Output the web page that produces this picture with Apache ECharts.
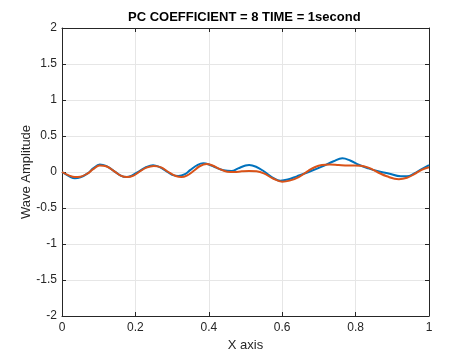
<!DOCTYPE html>
<html>
<head>
<meta charset="utf-8">
<script src="https://cdn.jsdelivr.net/npm/echarts@6/dist/echarts.min.js"></script>
<style>
  html, body { margin: 0; padding: 0; background: #fff; }
  #chart { width: 474px; height: 355px; }
</style>
</head>
<body>
<div id="chart"></div>
<script>
  // values
  const blueX = [0, 0.02, 0.035, 0.05, 0.07, 0.085, 0.103, 0.12, 0.14, 0.16, 0.175, 0.19, 0.21, 0.23, 0.248,
    0.265, 0.285, 0.3, 0.317, 0.335, 0.35, 0.37, 0.385, 0.4, 0.42, 0.44, 0.462, 0.48, 0.5, 0.51, 0.53, 0.55,
    0.575, 0.595, 0.615, 0.64, 0.672, 0.708, 0.74, 0.764, 0.785, 0.81, 0.835, 0.859, 0.89, 0.923, 0.94, 0.96, 0.98, 1];
  const blueY = [0, -0.06, -0.088, -0.075, -0.02, 0.05, 0.105, 0.085, 0.02, -0.05, -0.07, -0.05, 0.01, 0.07, 0.095,
    0.07, 0.01, -0.04, -0.055, -0.03, 0.03, 0.1, 0.12, 0.105, 0.06, 0.025, 0.014, 0.05, 0.09, 0.097, 0.07, 0.01,
    -0.08, -0.12, -0.105, -0.06, 0, 0.074, 0.15, 0.19, 0.16, 0.097, 0.05, 0.014, -0.02, -0.06, -0.06, -0.02, 0.04, 0.097];

  const orangeX = [0, 0.02, 0.035, 0.05, 0.07, 0.085, 0.103, 0.12, 0.14, 0.16, 0.178, 0.195, 0.21, 0.23, 0.25,
    0.27, 0.29, 0.31, 0.325, 0.34, 0.36, 0.375, 0.394, 0.41, 0.43, 0.45, 0.47, 0.49, 0.51, 0.53, 0.55,
    0.575, 0.6, 0.62, 0.645, 0.672, 0.69, 0.708, 0.73, 0.754, 0.78, 0.813, 0.835, 0.859, 0.885, 0.918, 0.94, 0.96, 0.98, 1];
  const orangeY = [0, -0.05, -0.07, -0.065, -0.02, 0.04, 0.09, 0.08, 0.02, -0.05, -0.07, -0.05, 0, 0.06, 0.085,
    0.065, 0, -0.055, -0.07, -0.05, 0.02, 0.08, 0.11, 0.09, 0.04, 0.005, 0, 0.01, 0.015, 0.01, -0.02,
    -0.09, -0.135, -0.12, -0.07, 0.02, 0.07, 0.097, 0.105, 0.097, 0.09, 0.088, 0.06, 0, -0.06, -0.1, -0.08, -0.03, 0.03, 0.065];

  const titleText = "PC COEFFICIENT = 8 TIME = 1second";
  const xName = "X axis";
  const yName = "Wave Amplitude";

  function pairs(xs, ys) {
    return xs.map(function (x, i) { return [x, ys[i]]; });
  }

  const axisColor = "#262626";
  const labelColor = "#262626";
  const font = "Liberation Sans, Arial, Helvetica, sans-serif";

  const chart = echarts.init(document.getElementById("chart"), null, { renderer: "canvas" });

  const option = {
    animation: false,
    backgroundColor: "#fff",
    title: {
      text: titleText,
      left: 128,
      top: 11,
      padding: 0,
      textStyle: { fontFamily: font, fontSize: 13, fontWeight: "bold", color: "#000" }
    },
    // fixed plot box, no auto shrinking for labels
    grid: { left: 62, right: 45, top: 28, bottom: 39, containLabel: false, outerBoundsMode: "none" },
    xAxis: [
      {
        type: "value", min: 0, max: 1, interval: 0.2,
        name: xName, nameLocation: "middle", nameGap: 23, nameMoveOverlap: false,
        nameTextStyle: { fontFamily: font, fontSize: 13, color: labelColor },
        axisLine: { show: true, onZero: false, lineStyle: { color: axisColor, width: 1 } },
        axisTick: { show: true, inside: true, length: 4, lineStyle: { color: axisColor } },
        axisLabel: { fontFamily: font, fontSize: 12, color: labelColor, margin: 6 },
        splitLine: { show: true, lineStyle: { color: "#e6e6e6", width: 1 } }
      },
      {
        type: "value", min: 0, max: 1, interval: 0.2, position: "top",
        axisLine: { show: true, onZero: false, lineStyle: { color: axisColor, width: 1 } },
        axisTick: { show: true, inside: true, length: 4, lineStyle: { color: axisColor } },
        axisLabel: { show: false },
        splitLine: { show: false }
      }
    ],
    yAxis: [
      {
        type: "value", min: -2, max: 2, interval: 0.5,
        name: yName, nameLocation: "middle", nameGap: 29, nameMoveOverlap: false,
        nameTextStyle: { fontFamily: font, fontSize: 13, color: labelColor },
        axisLine: { show: true, onZero: false, lineStyle: { color: axisColor, width: 1 } },
        axisTick: { show: true, inside: true, length: 4, lineStyle: { color: axisColor } },
        axisLabel: { fontFamily: font, fontSize: 12, color: labelColor, margin: 5 },
        splitLine: { show: true, lineStyle: { color: "#e6e6e6", width: 1 } }
      },
      {
        type: "value", min: -2, max: 2, interval: 0.5, position: "right",
        axisLine: { show: true, onZero: false, lineStyle: { color: axisColor, width: 1 } },
        axisTick: { show: true, inside: true, length: 4, lineStyle: { color: axisColor } },
        axisLabel: { show: false },
        splitLine: { show: false }
      }
    ],
    series: [
      {
        type: "line", name: "signal", data: pairs(blueX, blueY),
        smooth: 0.4, showSymbol: false,
        lineStyle: { color: "#0072BD", width: 2 }
      },
      {
        type: "line", name: "approx", data: pairs(orangeX, orangeY),
        smooth: 0.4, showSymbol: false,
        lineStyle: { color: "#D95319", width: 2 }
      }
    ]
  };

  chart.setOption(option);
</script>
</body>
</html>
